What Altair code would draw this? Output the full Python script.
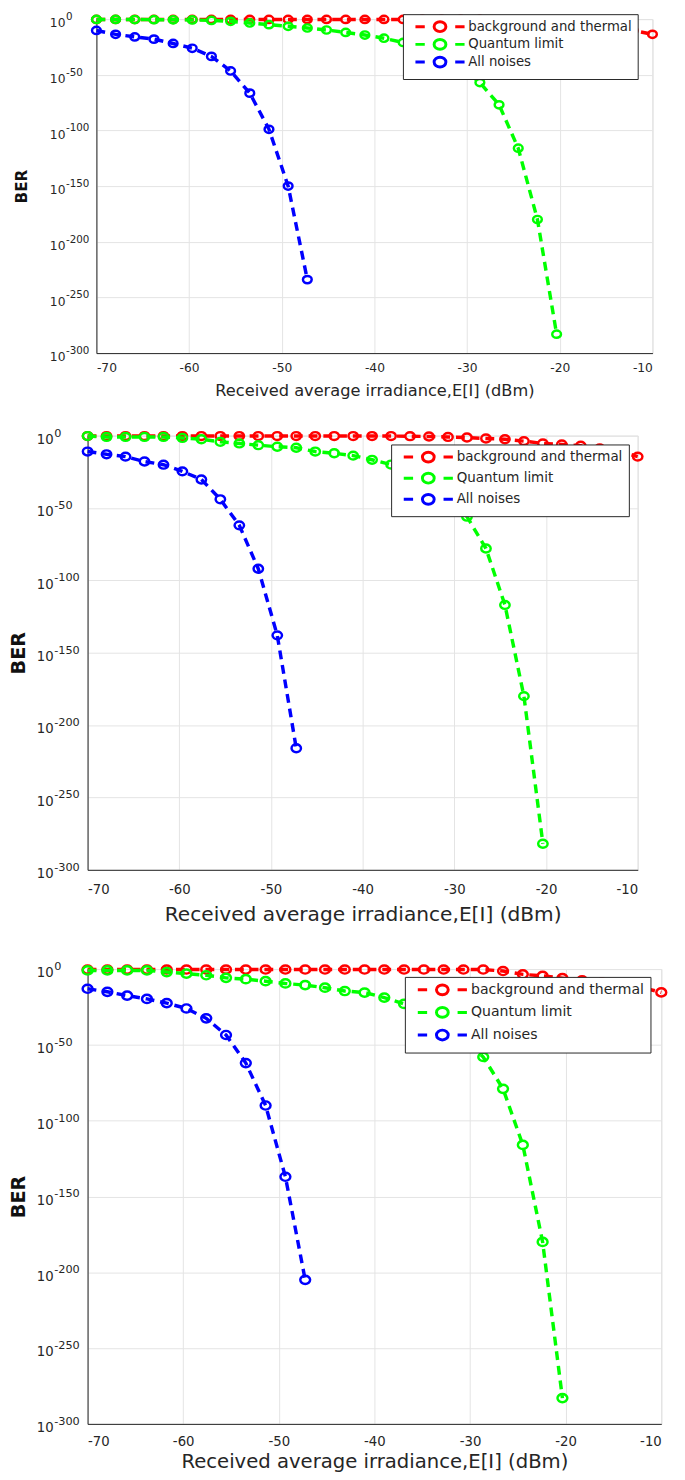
import altair as alt
import pandas as pd

# x positions of the computed points (dBm)
X_DBM = [-70.00, -67.93, -65.86, -63.79, -61.72, -59.66, -57.59, -55.52, -53.45, -51.38,
         -49.31, -47.24, -45.17, -43.10, -41.03, -38.97, -36.90, -34.83, -32.76, -30.69,
         -28.62, -26.55, -24.48, -22.41, -20.34, -18.28, -16.21, -14.14, -12.07, -10.00]

SERIES = ["background and thermal", "Quantum limit", "All noises"]
COLORS = ["#ff0000", "#00ff00", "#0000ff"]

# values are log10(BER)
P1_RED = [-0.3, -0.3, -0.3, -0.3, -0.3, -0.3, -0.3, -0.3, -0.3, -0.3,
          -0.3, -0.3, -0.3, -0.3, -0.3, -0.3, -0.3, -0.3, -0.3, -0.3,
          -0.3, -0.6, -2.3, -3.5, -4.4, -5.2, -6.4, -7.9, -10.2, -13.7]
P1_GREEN = [-0.3, -0.3, -0.4, -0.5, -0.6, -0.8, -1.2, -2.0, -3.5, -5.0,
            -6.5, -8.0, -9.8, -12.0, -14.3, -17.2, -21.0, -26.0, -33.0, -43.0,
            -57.0, -77.0, -116.0, -180.0, -283.0]
P1_BLUE = [-10.2, -13.7, -16.0, -18.0, -21.9, -26.2, -33.5, -46.6, -66.5, -99.0, -150.0, -234.0]

P2_RED = [-0.3, -0.3, -0.3, -0.3, -0.3, -0.3, -0.3, -0.3, -0.3, -0.3,
          -0.3, -0.3, -0.3, -0.3, -0.3, -0.3, -0.3, -0.4, -0.6, -0.9,
          -1.3, -2.0, -2.5, -3.8, -5.4, -6.1, -7.0, -8.8, -10.6, -14.5]
P2_GREEN = [-0.3, -0.9, -0.9, -0.9, -0.9, -1.6, -2.5, -4.3, -5.4, -6.6,
            -7.7, -8.4, -11.0, -12.2, -13.8, -16.7, -20.0, -25.0, -32.0, -42.0,
            -56.0, -78.0, -117.0, -180.0, -282.0]
P2_BLUE = [-11.0, -12.9, -14.5, -17.9, -20.1, -24.7, -30.3, -44.0, -62.0, -92.0, -138.0, -216.0]

P3_RED = [-0.3, -0.3, -0.3, -0.3, -0.3, -0.3, -0.3, -0.3, -0.3, -0.3,
          -0.3, -0.3, -0.3, -0.3, -0.3, -0.3, -0.3, -0.3, -0.3, -0.3,
          -0.3, -1.3, -3.5, -4.5, -6.0, -7.4, -8.9, -10.4, -12.1, -15.4]
P3_GREEN = [-0.9, -0.9, -0.9, -0.9, -2.0, -3.0, -4.1, -5.8, -6.7, -8.0,
            -9.5, -10.6, -12.3, -14.5, -15.5, -18.8, -23.0, -28.0, -35.0, -45.0,
            -58.0, -79.0, -116.0, -180.0, -283.0]
P3_BLUE = [-13.0, -15.0, -17.5, -19.7, -22.5, -26.0, -32.5, -43.5, -62.0, -90.0, -137.0, -205.0]

Y_TICKS = [0, -50, -100, -150, -200, -250, -300]
Y_EXPONENTS = ["0", "-50", "-100", "-150", "-200", "-250", "-300"]   # shown as 10^exp
X_TICKS = [-70, -60, -50, -40, -30, -20, -10]
X_TITLE = "Received average irradiance,E[I] (dBm)"
Y_TITLE = "BER"

FONT = "DejaVu Sans"
ELLIPSE = ("M-1.2,0C-1.2,-0.55,-0.66,-1,0,-1C0.66,-1,1.2,-0.55,1.2,0"
           "C1.2,0.55,0.66,1,0,1C-0.66,1,-1.2,0.55,-1.2,0Z")
# legend glyph: dash, open circle, dash (1 unit = 5 px)
LEGEND_PATH = "M-5,0L-3.1,0M3.1,0L5,0" + ELLIPSE


def panel(red, green, blue, w, h, lab_fs, exp_fs, title_fs, ber_fs, leg_x, leg_y, leg_fs,
          leg_row, msize, xlabpad, xtitlepad, ylabpad, ytitlepad, top_title=None):
    xenc = alt.X("x:Q", scale=alt.Scale(domain=[-70, -10], nice=False, zero=False),
                 axis=alt.Axis(values=X_TICKS, title=X_TITLE,
                               labelExpr="'' + datum.value",
                               labelFontSize=lab_fs, titleFontSize=title_fs,
                               titleFontWeight="normal", labelPadding=xlabpad,
                               titlePadding=xtitlepad, ticks=False, grid=True,
                               gridColor="#e3e3e3", domainColor="#262626",
                               labelColor="#262626", titleColor="#262626",
                               labelFont=FONT, titleFont=FONT))
    yenc = alt.Y("y:Q", scale=alt.Scale(domain=[-300, 0], nice=False, zero=False),
                 axis=alt.Axis(values=Y_TICKS, title=Y_TITLE, labelExpr="'10'",
                               labelFontSize=lab_fs, titleFontSize=ber_fs,
                               titleFontWeight="bold", labelPadding=ylabpad,
                               labelOffset=4, labelBaseline="middle",
                               titlePadding=ytitlepad, ticks=False, grid=True,
                               gridColor="#e3e3e3", domainColor="#262626",
                               labelColor="#262626", titleColor="#111111",
                               labelFont=FONT, titleFont=FONT))
    cscale = alt.Scale(domain=SERIES, range=COLORS)
    legend = alt.Legend(title=None, orient="none", legendX=leg_x, legendY=leg_y,
                        direction="vertical", symbolType=LEGEND_PATH,
                        symbolSize=100, symbolStrokeWidth=3, symbolOffset=25,
                        symbolFillColor="white", labelFontSize=leg_fs,
                        labelFont=FONT, labelColor="#262626", labelLimit=400,
                        labelOffset=22, padding=6, rowPadding=leg_row,
                        fillColor="white", strokeColor="#262626",
                        cornerRadius=0, values=SERIES)
    layers = []
    for name, vals in zip(SERIES, [red, green, blue]):
        df = pd.DataFrame({"x": X_DBM[:len(vals)], "y": vals, "s": name})
        line = alt.Chart(df).mark_line(strokeDash=[9, 6], strokeWidth=3.5, clip=False).encode(
            x=xenc, y=yenc, color=alt.Color("s:N", scale=cscale, legend=legend))
        pts = alt.Chart(df).mark_point(shape=ELLIPSE, filled=False, strokeWidth=2.5,
                                       size=msize, opacity=1, clip=False).encode(
            x=xenc, y=yenc, color=alt.Color("s:N", scale=cscale, legend=None))
        layers += [line, pts]
    exp_df = pd.DataFrame({"y": Y_TICKS, "e": Y_EXPONENTS})
    exps = alt.Chart(exp_df).mark_text(align="left", baseline="middle", dy=-2,
                                       fontSize=exp_fs, font=FONT, color="#262626",
                                       clip=False).encode(
        y=yenc, x=alt.value(-ylabpad + 1), text="e:N")
    layers.append(exps)
    ch = alt.layer(*layers).properties(width=w, height=h)
    if top_title is not None:
        ch = ch.properties(title=alt.TitleParams(" ", fontSize=2, offset=top_title))
    return ch


p1 = panel(P1_RED, P1_GREEN, P1_BLUE, 566, 340, 12.5, 10.5, 16.5, 15.5, 321, -5, 13.5, -6, 55,
           9, 9, 32, 20)
p2 = panel(P2_RED, P2_GREEN, P2_BLUE, 560, 442, 13.5, 11.5, 20.5, 19.5, 309, 9, 13.7, -1.5, 64,
           13, 9, 35, 8)
p3 = panel(P3_RED, P3_GREEN, P3_BLUE, 584, 463, 13.5, 11.5, 20, 19.5, 323, 8, 14.3, 0, 70,
           11, 4, 35, 8, top_title=6)

spacer = alt.Chart(pd.DataFrame({"a": [0]})).mark_point(opacity=0).encode(
    x=alt.X("a:Q", axis=None), y=alt.Y("a:Q", axis=None)
).properties(width=9, height=10, view=alt.ViewBackground(strokeOpacity=0))

row1 = alt.hconcat(spacer, p1, spacing=0, bounds="flush")

chart = alt.vconcat(row1, p2, p3, spacing=26).resolve_scale(
    color="independent").resolve_legend(color="independent").properties(
    padding={"left": 0, "top": -11, "right": 5, "bottom": 5}
).configure_view(stroke="#262626", strokeWidth=1).configure(background="white")

chart.save("out.html", embed_options={"renderer": "svg", "actions": False})
